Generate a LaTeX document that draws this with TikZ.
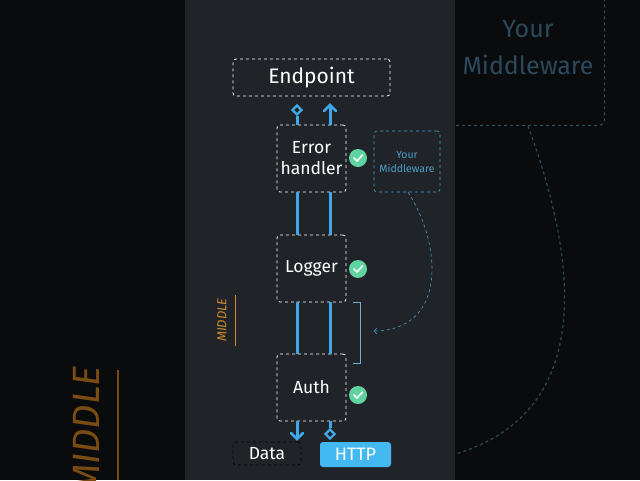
\documentclass[tikz,border=0pt]{standalone}
\usepackage{fontspec}
\setmainfont{Fira Sans}
\usetikzlibrary{shapes.geometric}
\definecolor{bgdark}{HTML}{0A0B0D}
\definecolor{panel}{HTML}{202428}
\definecolor{lblue}{HTML}{3EA9E8}
\definecolor{mblue}{HTML}{4A9FCC}
\definecolor{dblue}{HTML}{2A4A5C}
\definecolor{chk}{HTML}{5FD3A0}
\definecolor{orng}{HTML}{D08A2A}
\definecolor{dorng}{HTML}{7A4C14}
\definecolor{httpc}{HTML}{44B8F0}
\begin{document}
\begin{tikzpicture}[x=1pt,y=-1pt,
  box/.style={draw=white,dashed,rounded corners=3pt,line width=0.8pt,text=white,inner sep=0pt,font=\fontsize{17.5}{21}\selectfont,align=center},
  flow/.style={draw=lblue,line width=3pt},
  chev/.style={draw=lblue,line width=2.6pt,line cap=round,line join=miter},
  dia/.style={diamond,draw=lblue,line width=2.2pt,fill=panel,minimum size=10pt,inner sep=0pt},
  check/.style={circle,fill=chk,minimum size=18pt,inner sep=0pt}]
\useasboundingbox (0,0) rectangle (640,480);
\fill[bgdark] (0,0) rectangle (640,480);
% left blurred zoom
\begin{scope}
\clip (0,0) rectangle (185,480);
\node[rotate=90,text=dorng,font=\fontsize{38}{40}\selectfont\itshape,anchor=center] (bigmid) at (86,430) {MIDDLE};
\coordinate (bl1) at (118,370); \coordinate (bl2) at (118,480);
\draw[dorng,line width=2.5pt] (bl1) -- (bl2);
\end{scope}
% right blurred zoom
\begin{scope}
\clip (455,0) rectangle (640,480);
\node[draw=dblue,dashed,rounded corners=5pt,line width=1.2pt,minimum width=300pt,minimum height=170pt,anchor=south east] (bigmw) at (605,126) {};
\node[text=dblue,font=\fontsize{25}{37}\selectfont,align=center] (bigmwt) at (528,48) {Your\\Middleware};
\coordinate (bc1) at (528,126);
\coordinate (bc2) at (440,458);
\draw[dblue,dashed,line width=1.2pt] (bc1) .. controls (570,240) and (610,420) .. (bc2);
\end{scope}
% panel
\fill[panel] (185,0) rectangle (455,480);
\node[box,minimum width=157pt,minimum height=37pt,font=\fontsize{21}{24}\selectfont] (ep) at (311.5,77.5) {Endpoint};
\node[box,minimum width=69pt,minimum height=67pt] (err) at (311.5,158.5) {Error\\handler};
\node[box,minimum width=69pt,minimum height=67pt] (log) at (311.5,268.5) {Logger};
\node[box,minimum width=69pt,minimum height=67pt] (auth) at (311.5,387.5) {Auth};
\node[box,draw=mblue,line width=0.6pt,minimum width=66pt,minimum height=61pt,text=mblue,font=\fontsize{10.5}{14}\selectfont] (mw) at (407,161.5) {Your\\Middleware};
\node[box,draw=dblue!150,line width=0.8pt,minimum width=68pt,minimum height=23pt] (data) at (267,453.5) {Data};
\node[fill=httpc,rounded corners=3pt,minimum width=71pt,minimum height=25pt,text=white,inner sep=0pt,font=\fontsize{18}{20}\selectfont] (http) at (355.5,454.5) {HTTP};
\foreach \n/\y in {c1/158,c2/269,c3/395}{
  \node[check] (\n) at (358,\y) {};
  \draw[white,line width=1.6pt,line cap=round,line join=round] ([shift={(-4,0)}]\n.center) -- ([shift={(-1,3)}]\n.center) -- ([shift={(4.5,-3)}]\n.center);
}
% flows top
\node[dia] (d1) at (297,110) {};
\coordinate (a1) at (330,105);
\draw[flow] (err.north -| d1) -- (d1.south);
\draw[flow] (err.north -| a1) -- (a1);
\draw[chev] ([shift={(-6,6)}]a1) -- (a1) -- ([shift={(6,6)}]a1);
\draw[flow] (log.north -| d1) -- (err.south -| d1);
\draw[flow] (log.north -| a1) -- (err.south -| a1);
\draw[flow] (auth.north -| d1) -- (log.south -| d1);
\draw[flow] (auth.north -| a1) -- (log.south -| a1);
% flows bottom
\coordinate (a2) at (297,439);
\node[dia] (d2) at (330,434) {};
\draw[flow] (auth.south -| a2) -- (a2);
\draw[chev] ([shift={(-6,-6)}]a2) -- (a2) -- ([shift={(6,-6)}]a2);
\draw[flow] (auth.south -| d2) -- (d2.north);
% bracket
\coordinate (br1) at (353,302); \coordinate (br2) at (353,363);
\draw[mblue!80,line width=0.8pt] (br1) -| (360,363) -- (br2);
% curved arrow
\coordinate (ca) at (374,331);
\draw[mblue,dashed,line width=0.6pt] ([xshift=1pt]mw.south) .. controls (440,240) and (450,330) .. (ca);
\draw[mblue,line width=0.6pt] (377,328) -- (ca) -- (377,334);
% MIDDLE label
\node[rotate=90,text=orng,font=\fontsize{13}{15}\selectfont\itshape] (mid) at (222,320) {MIDDLE};
\coordinate (ml1) at (235,295); \coordinate (ml2) at (235,346);
\draw[orng,line width=1pt] (ml1) -- (ml2);
\end{tikzpicture}
\end{document}
